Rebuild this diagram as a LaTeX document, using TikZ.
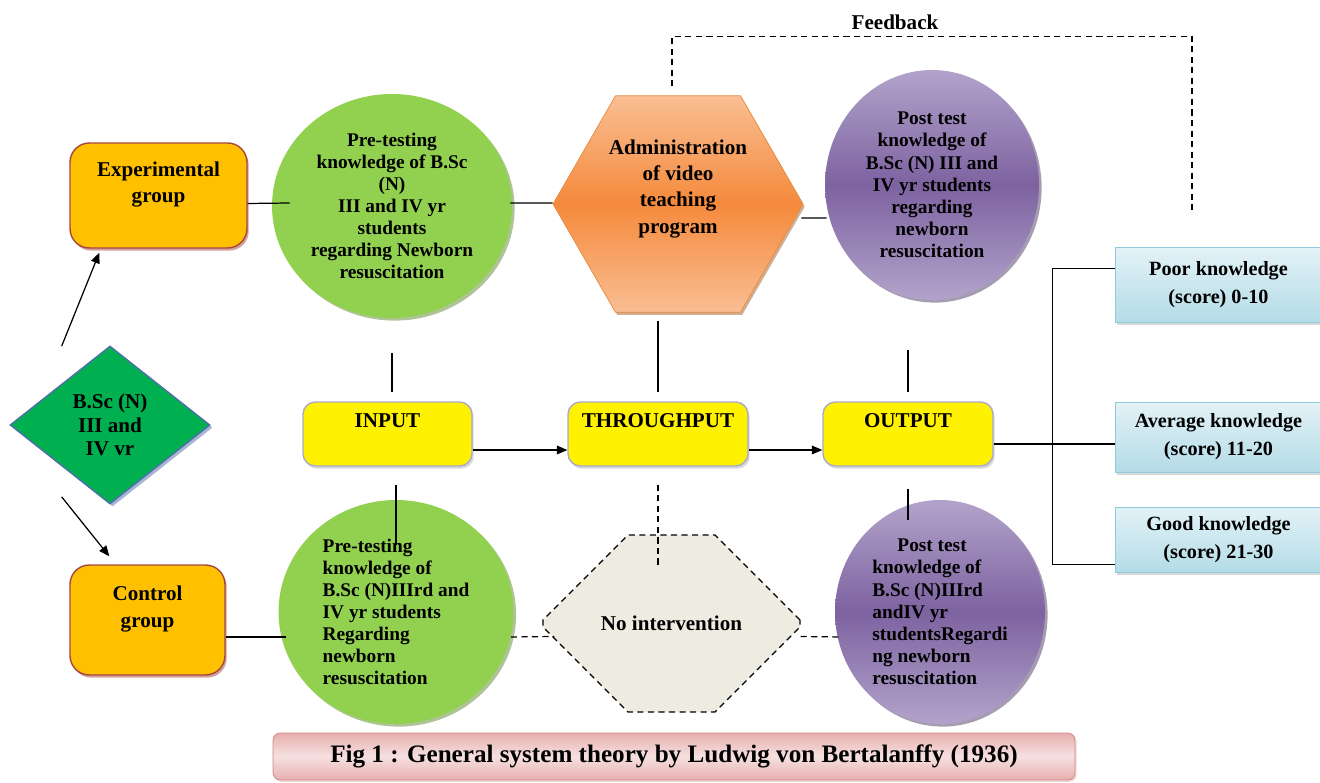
\documentclass[tikz,border=0pt]{standalone}
\usepackage{fontspec}
\setmainfont{Liberation Serif}
\usetikzlibrary{shapes.geometric,shapes.misc,arrows.meta,calc,shadows}
\definecolor{grpfill}{HTML}{FFC000}
\definecolor{grpline}{HTML}{A5473F}
\definecolor{prefill}{HTML}{92D050}
\definecolor{preshade}{HTML}{5E8A2E}
\definecolor{hexfill}{HTML}{F58A3C}
\definecolor{hexlight}{HTML}{F9BE93}
\definecolor{hexline}{HTML}{E7893F}
\definecolor{postfill}{HTML}{7D62A0}
\definecolor{postlight}{HTML}{B2A3CB}
\definecolor{postshade}{HTML}{4C3A66}
\definecolor{diafill}{HTML}{00B050}
\definecolor{dialine}{HTML}{4F6FA8}
\definecolor{ioline}{HTML}{A9A9CC}
\definecolor{scoretop}{HTML}{E3F2F7}
\definecolor{scorebot}{HTML}{B4DCE7}
\definecolor{scoreline}{HTML}{8FCBDB}
\definecolor{captop}{HTML}{E7AFAE}
\definecolor{capmid}{HTML}{F6E0E0}
\definecolor{capline}{HTML}{CF8482}
\definecolor{nonefill}{HTML}{EEECE1}
\tikzset{
	txt/.style={font=\bfseries\fontsize{12}{15}\selectfont,align=center,inner sep=2pt},
	ctxt/.style={font=\bfseries\fontsize{11}{12.6}\selectfont,inner sep=0pt},
	group/.style={txt,draw=grpline,thick,fill=grpfill,rounded corners=11pt,
		drop shadow={shadow xshift=1pt,shadow yshift=-1.5pt,fill=grpline}},
	pretest/.style={ctxt,ellipse,fill=prefill,
		drop shadow={shadow xshift=1.5pt,shadow yshift=-1.5pt,fill=preshade}},
	posttest/.style={ctxt,ellipse,top color=postlight,bottom color=postlight,middle color=postfill,
		drop shadow={shadow xshift=1.5pt,shadow yshift=-1.5pt,fill=postshade}},
	stage/.style={txt,draw=ioline,thick,fill=yellow,rounded corners=7pt,
		minimum height=1.28cm,drop shadow={shadow xshift=1pt,shadow yshift=-1.5pt,fill=black!30}},
	score/.style={font=\bfseries\fontsize{11.5}{16}\selectfont,align=center,draw=scoreline,
		top color=scoretop,bottom color=scorebot,minimum width=4.14cm,
		drop shadow={shadow xshift=1pt,shadow yshift=-1.5pt,fill=black!30}},
	link/.style={line width=0.7pt},
	dlink/.style={line width=0.7pt,dash pattern=on 3.5pt off 2.5pt},
	arr/.style={link,-{Triangle[length=6pt,width=5pt]}}
}
\begin{document}
\begin{tikzpicture}[x=0.02cm,y=-0.02cm]
	\useasboundingbox (0,0) rectangle (1320,783);
	% left column
	\node[group,minimum width=3.54cm,minimum height=2.1cm] (exp) at (158.5,195.5) {Experimental\\group\\\mbox{}};
	\node[group,minimum width=3.1cm,minimum height=2.2cm] (ctl) at (147.5,620) {Control\\group\\\mbox{}};
	\node[txt,font=\bfseries\fontsize{12}{13.5}\selectfont,diamond,draw=dialine,thick,fill=diafill,
		minimum width=4cm,minimum height=3.16cm,
		drop shadow={shadow xshift=1.5pt,shadow yshift=-1.5pt,fill=dialine}] (dia) at (110,425) {B.Sc (N)\\III and\\IV vr};
	% pretest
	\node[pretest,align=center,minimum width=4.8cm,minimum height=4.48cm] (pre1) at (392,206)
		{Pre-testing\\knowledge of B.Sc\\(N)\\III and IV yr\\students\\regarding Newborn\\resuscitation};
	\node[pretest,align=left,minimum width=4.7cm,minimum height=4.48cm] (pre2) at (396,612)
		{Pre-testing\\knowledge of\\B.Sc (N)IIIrd and\\IV yr students\\Regarding\\newborn\\resuscitation};
	% intervention
	\node[txt,regular polygon,regular polygon sides=6,draw=hexline,
		top color=hexlight,bottom color=hexlight,middle color=hexfill,minimum size=5cm,
		drop shadow={shadow xshift=1pt,shadow yshift=-1.5pt,fill=hexline!70!black}] (adm) at (678,204)
		{Administration\\of video\\teaching\\program\\[5pt]\mbox{}};
	\node[txt,chamfered rectangle,chamfered rectangle xsep=1.24cm,chamfered rectangle ysep=1.76cm,
		draw,dlink,fill=nonefill,minimum width=5.14cm,minimum height=3.54cm] (noint) at (671.5,623.5) {No intervention};
	% posttest
	\node[posttest,align=center,minimum width=4.28cm,minimum height=4.6cm] (post1) at (932,185)
		{Post test\\knowledge of\\B.Sc (N) III and\\IV yr students\\regarding\\newborn\\resuscitation};
	\node[posttest,align=left,minimum width=4.2cm,minimum height=4.48cm] (post2) at (940,612)
		{\hspace*{1.3em}Post test\\knowledge of\\B.Sc (N)IIIrd\\andIV yr\\studentsRegardi\\ng newborn\\resuscitation};
	% system row
	\node[stage,minimum width=3.38cm] (inp) at (387.5,434) {INPUT\\\mbox{}};
	\node[stage,minimum width=3.6cm] (thr) at (658,434) {THROUGHPUT\\\mbox{}};
	\node[stage,minimum width=3.4cm] (out) at (908,434) {OUTPUT\\\mbox{}};
	% scores
	\node[score,minimum height=1.5cm] (poor) at (1218.5,284.5) {Poor knowledge\\(score) 0-10};
	\node[score,minimum height=1.4cm] (avg) at (1218.5,437) {Average knowledge\\(score) 11-20};
	\node[score,minimum height=1.3cm] (good) at (1218.5,539.5) {Good knowledge\\(score) 21-30};
	\node[font=\bfseries\fontsize{12}{14}\selectfont] (fbk) at (895,22) {Feedback};
	\node[font=\bfseries\fontsize{14.3}{16}\selectfont,draw=capline,rounded corners=4pt,
		top color=captop,bottom color=captop,middle color=capmid,minimum width=16.04cm,minimum height=0.94cm,
		drop shadow={shadow xshift=1pt,shadow yshift=-1pt,fill=capline!60}] (cap) at (674,756.5)
		{Fig 1 : General system theory by Ludwig von Bertalanffy (1936)};
	% connectors
	\draw[arr] ($(dia.north west)+(2,-39)$) -- ($(exp.south west)+(30,4)$);
	\draw[arr] ($(dia.south west)+(2,32)$) -- ($(ctl.north west)+(40,-8)$);
	\draw[link] ($(exp.east)+(0,8)$) -- ($(pre1.west)+(18,-3)$);
	\draw[link] ($(pre1.east)+(-2,-3)$) -- ($(adm.west)+(0,-1)$);
	\draw[link] ($(adm.east)+(-2,14)$) -- ($(post1.west)+(2,33)$);
	\draw[link] ($(ctl.east)+(0,17)$) -- ($(pre2.west)+(8,25)$);
	\draw[dlink] ($(pre2.east)+(-3,25)$) -- ($(noint.west)+(12,13)$);
	\draw[dlink] ($(noint.east)+(0,13)$) -- ($(post2.west)+(8,25)$);
	\draw[link,shorten <=0.7cm,shorten >=0.18cm] (pre1.south) -- (pre1.south |- inp.north);
	\draw[link,shorten <=0.16cm,shorten >=0.18cm] (thr.north |- adm.south) -- (thr.north);
	\draw[link,shorten <=1cm,shorten >=0.18cm] (post1.south -| out.north) -- (out.north);
	\draw[link,shorten <=0.36cm,shorten >=-0.9cm] (inp.south -| pre2.north) -- (pre2.north);
	\draw[dlink,shorten <=0.36cm,shorten >=-0.66cm] (thr.south) -- (thr.south |- noint.north);
	\draw[link,shorten <=0.44cm,shorten >=-0.4cm] (out.south) -- (out.south |- post2.north);
	\draw[arr] ($(inp.east)+(0,16)$) -- ($(thr.west)+(0,16)$);
	\draw[arr] ($(thr.east)+(0,16)$) -- ($(out.west)+(0,16)$);
	\draw[link] ($(out.east)+(0,10)$) -- ($(avg.west)+(0,7)$);
	\draw[link] ($(poor.west)+(0,-16)$) -- ++(-62,0) |- ($(good.west)+(0,25)$);
	% feedback loop
	\coordinate (fbend) at (1192,212);
	\draw[dlink] ($(adm.north)+(-6,-9)$) -- ($(adm.north)+(-6,-59)$) -| (fbend);
\end{tikzpicture}
\end{document}
